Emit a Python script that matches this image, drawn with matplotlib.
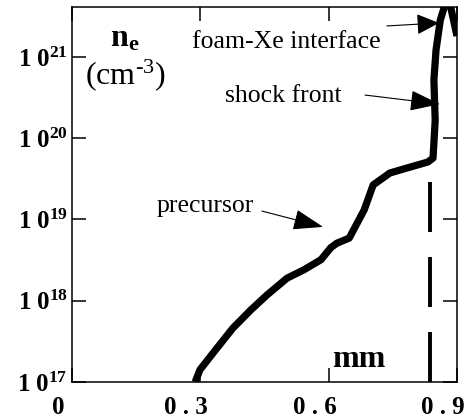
import matplotlib
matplotlib.use("Agg")
import matplotlib.pyplot as plt
import matplotlib.transforms as mtransforms
import numpy as np

plt.rcParams['font.family'] = ['Liberation Serif', 'DejaVu Serif']
plt.rcParams['mathtext.fontset'] = 'custom'
plt.rcParams['mathtext.rm'] = 'Liberation Serif'
plt.rcParams['mathtext.bf'] = 'Liberation Serif:bold'
plt.rcParams['mathtext.it'] = 'Liberation Serif:italic'
plt.rcParams['lines.scale_dashes'] = False

# electron density profile (mm, cm^-3)
x_mm = [0.288, 0.299, 0.330, 0.376, 0.418, 0.456, 0.503, 0.542, 0.582,
        0.605, 0.619, 0.648, 0.683, 0.704, 0.743, 0.783, 0.832, 0.844,
        0.849, 0.846, 0.851, 0.861, 0.879, 0.900]
ne = [1.0e17, 1.41e17, 2.28e17, 4.6e17, 7.7e17, 1.18e18, 1.9e18, 2.4e18,
      3.2e18, 4.5e18, 5.1e18, 5.9e18, 1.31e19, 2.66e19, 3.73e19, 4.3e19,
      5.1e19, 5.7e19, 1.66e20, 5.2e20, 1.22e21, 2.85e21, 5.8e21, 1.81e21]

# dashed marker line
dash_x = [0.838, 0.838]
dash_ne = [2.9e19, 1.0e17]

xticks = [0, 0.3, 0.6, 0.9]
xlabels = ['0', '0 . 3', '0 . 6', '0 . 9']
yticks = [1e17, 1e18, 1e19, 1e20, 1e21]
ylabels = [r'$\mathbf{1\ 0^{17}}$', r'$\mathbf{1\ 0^{18}}$', r'$\mathbf{1\ 0^{19}}$',
           r'$\mathbf{1\ 0^{20}}$', r'$\mathbf{1\ 0^{21}}$']

fig = plt.figure(figsize=(4.68, 4.2), dpi=100)
ax = fig.add_axes([72/468, 38/420, 385/468, 375/420])
ax.set_yscale('log')
ax.set_xlim(0, 0.9)
ax.set_ylim(1e17, 10**21.615)

ax.plot(x_mm, ne, color='black', lw=5.2, solid_capstyle='butt', solid_joinstyle='round')
ax.plot(dash_x, dash_ne, color='black', lw=2.8, linestyle=(0, (36, 18)), dash_capstyle='butt')

for s in ax.spines.values():
    s.set_linewidth(1.1)

ax.set_xticks(xticks, xlabels)
ax.set_yticks(yticks, ylabels)
ax.yaxis.set_minor_locator(matplotlib.ticker.NullLocator())
ax.tick_params(axis='both', which='major', direction='in', length=10, width=1.1,
               top=True, right=True, labelsize=18)
ax.tick_params(axis='x', pad=10)
ax.tick_params(axis='y', pad=3)

off_x = mtransforms.ScaledTranslation(-0.14, 0, fig.dpi_scale_trans)
for lab in ax.get_xticklabels():
    lab.set_fontweight('bold')
    lab.set_transform(lab.get_transform() + off_x)

# axis labels inside the frame
ax.text(0.0888, 1.33e21, r'$\mathbf{n_e}$', fontsize=23, ha='left', va='baseline')
ax.text(0.0304, 4.66e20, r'(cm$^{\text{-}3}$)', fontsize=23, ha='left', va='baseline')
ax.text(0.6078, 1.53e17, 'mm', fontsize=23, fontweight='bold', ha='left', va='baseline')

# annotations
ax.text(0.2805, 1.29e21, 'foam-Xe interface', fontsize=18.5, ha='left', va='baseline')
ax.text(0.3577, 2.79e20, 'shock front', fontsize=18.5, ha='left', va='baseline')
ax.text(0.1987, 1.24e19, 'precursor', fontsize=18.5, ha='left', va='baseline')

arrows = [
    ((0.858, 2.62e21), (0.736, 2.41e21), 1.4),
    ((0.860, 2.63e20), (0.685, 3.4e20), 1.9),
    ((0.587, 8.1e18), (0.444, 1.27e19), 1.9),
]
for tip, tail, hl in arrows:
    ax.annotate('', xy=tip, xytext=tail,
                arrowprops=dict(arrowstyle='-|>,head_length=%.2f,head_width=0.65' % hl,
                                color='black', lw=0.8, mutation_scale=10,
                                shrinkA=0, shrinkB=0))

fig.savefig('out.png', dpi=100)
